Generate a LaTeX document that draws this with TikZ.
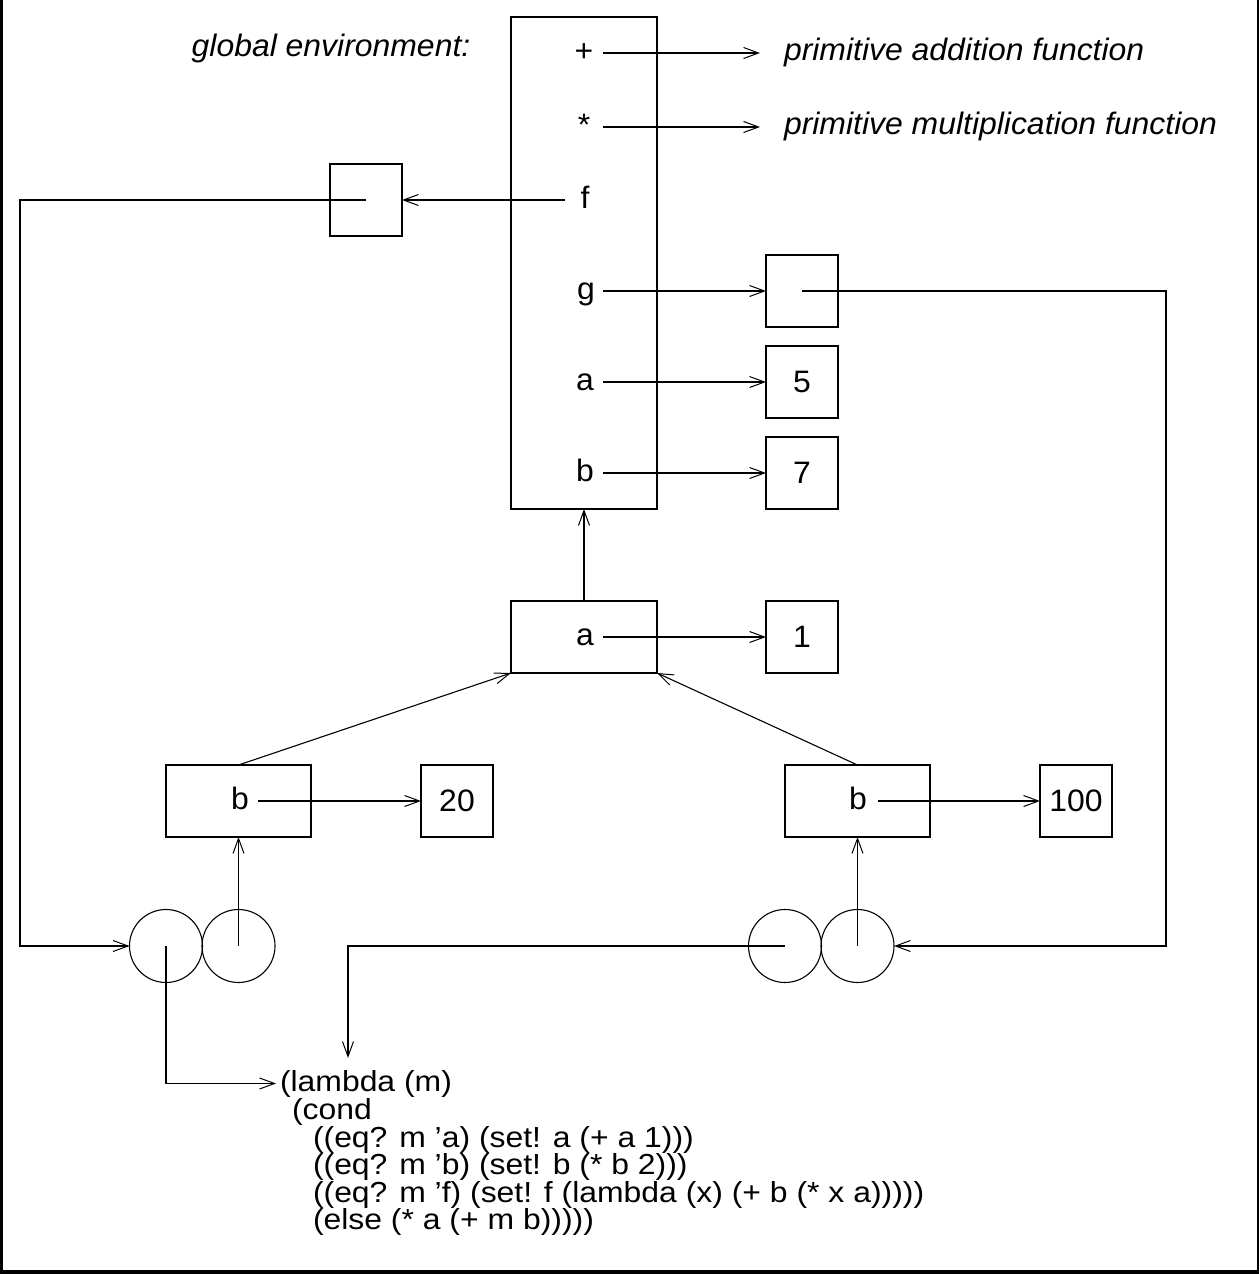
\documentclass[tikz,border=0pt]{standalone}
\usepackage{fontspec}
\setmainfont{Liberation Sans}[FakeStretch=1.03]
\newfontfamily\codefont{Liberation Sans}[FakeStretch=1.1]
\usetikzlibrary{arrows.meta}
\tikzset{
  every node/.style={font=\fontsize{31}{27.6}\selectfont, inner sep=0pt, outer sep=0pt},
  cell/.style={draw, minimum width=72pt, minimum height=72pt},
  framebox/.style={draw, minimum width=146pt, minimum height=72pt},
  circ/.style={draw, circle, minimum size=73pt},
  lab/.style={anchor=base},
  code/.style={anchor=base west, font=\codefont\fontsize{29}{27.6}\selectfont},
  ptr/.style={->},
  itl/.style={font=\fontsize{31}{27.6}\selectfont\itshape},
}
\begin{document}
\begin{tikzpicture}[x=1pt,y=-1pt, line width=1.1pt,
  >={Straight Barb[length=15pt,width=11pt,line width=1pt]}]
\useasboundingbox (0,0) rectangle (1259,1274);
% outer frame (left, right, bottom)
\fill (0,0) rectangle (3,1274);
\fill (1257,0) rectangle (1259,1274);
\fill (0,1270) rectangle (1259,1274);

% global environment
\node[lab, itl] (gtitle) at (331,56) {global environment:};
\node[framebox, minimum height=492pt] (genv) at (584,263) {};
\node[lab] (lplus) at (584,61) {+};
\node[lab] (lmul) at (584,135) {*};
\node[lab] (lf) at (585,208) {f};
\node[lab] (lg) at (586,299) {g};
\node[lab] (la) at (585,390) {a};
\node[lab] (lb) at (585,481) {b};
\coordinate (splus) at (603,53);
\coordinate (smul) at (603,127);
\coordinate (sf) at (565,200);
\coordinate (sg) at (603,291);
\coordinate (sa) at (603,382);
\coordinate (sb) at (603,473);

\node[anchor=base west, itl] (padd) at (784,60) {primitive addition function};
\node[anchor=base west, itl] (pmul) at (784,134) {primitive multiplication function};

% value cells
\node[cell] (fbox) at (366,200) {};
\node[cell] (gbox) at (802,291) {};
\node[cell] (v5) at (802,382) {5};
\node[cell] (v7) at (802,473) {7};

\draw[ptr, shorten >=24pt] (splus) -- (splus -| padd.west);
\draw[ptr, shorten >=24pt] (smul) -- (smul -| pmul.west);
\draw[ptr] (sf) -- (fbox.east);
\draw[ptr] (sg) -- (gbox.west);
\draw[ptr] (sa) -- (v5.west);
\draw[ptr] (sb) -- (v7.west);

% frame with a
\node[framebox] (fa) at (584,637) {};
\node[lab] (fala) at (585,645) {a};
\coordinate (sfa) at (603,637);
\node[cell] (v1) at (802,637) {1};
\draw[ptr] (sfa) -- (v1.west);
\draw[ptr] (fa.north) -- (genv.south);

% frames with b
\node[framebox, minimum width=145pt] (fbL) at (238.5,801) {};
\node[lab] (fbLl) at (240,809) {b};
\coordinate (sbL) at (258,801);
\node[cell] (v20) at (457,801) {20};
\draw[ptr] (sbL) -- (v20.west);

\node[framebox, minimum width=145pt] (fbR) at (857.5,801) {};
\node[lab] (fbRl) at (858,809) {b};
\coordinate (sbR) at (878,801);
\node[cell] (v100) at (1076,801) {100};
\draw[ptr] (sbR) -- (v100.west);

\draw[ptr] (fbL.north) -- (fa.south west);
\draw[ptr] (fbR.north) -- (fa.south east);

% procedure objects
\node[circ] (cL1) at (166,946) {};
\node[circ] (cL2) at (238.5,946) {};
\node[circ] (cR1) at (785,946) {};
\node[circ] (cR2) at (857.5,946) {};

\draw[ptr] (cL2.center) -- (cL2.center |- fbL.south);
\draw[ptr] (cR2.center) -- (cR2.center |- fbR.south);

\coordinate (fcorner) at (20,200);
\draw[ptr] (fbox.center) -- (fcorner) |- (cL1.west);
\coordinate (gcorner) at (1166,291);
\draw[ptr] (gbox.center) -- (gcorner) |- (cR2.east);

% lambda code
\node[code] (l1) at (280,1091) {(lambda (m)};
\node[code] (l2) at (292,1119) {(cond};
\node[code] (l3) at (313,1147) {((eq? m ’a) (set! a (+ a 1)))};
\node[code] (l4) at (313,1174.6) {((eq? m ’b) (set! b (* b 2)))};
\node[code] (l5) at (313,1202.2) {((eq? m ’f) (set! f (lambda (x) (+ b (* x a)))))};
\node[code] (l6) at (313,1229.8) {(else (* a (+ m b)))))};

\draw[ptr, shorten >=4pt] (cL1.center) |- (l1.west);
\coordinate (rcorner) at (348,946);
\draw[ptr, shorten >=12pt] (cR1.center) -- (rcorner) -- (rcorner |- l1.north);
\end{tikzpicture}
\end{document}
